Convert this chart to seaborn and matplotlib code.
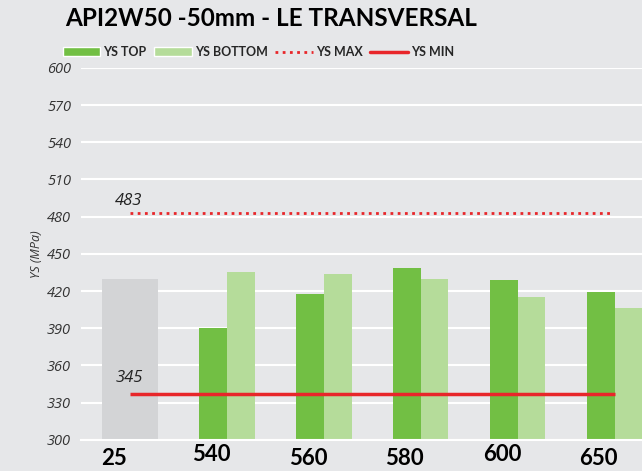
import pandas as pd
import matplotlib.pyplot as plt
import matplotlib.transforms as mtransforms
from matplotlib.patches import Patch
from matplotlib.lines import Line2D
import seaborn as sns

# data
categories = ['25', '540', '560', '580', '600', '650']
ref_category = ['25']
ref_value = [430]
pair_categories = ['540', '560', '580', '600', '650']
ys_top = [390, 418, 439, 429, 419]
ys_bottom = [435, 434, 430, 415, 406]
ys_max = 483
ys_min = 337
ys_min_label = '345'
ys_max_label = '483'

BG = '#e6e7e9'
GREY = '#d3d4d6'
DARK = '#72bf44'
LIGHT = '#b5dc9a'
RED = '#e8262a'

sns.set_theme(style='white')
plt.rcParams['font.family'] = ['Lato', 'DejaVu Sans']
ITAL = ['Open Sans', 'DejaVu Sans']

df_ref = pd.DataFrame({'cat': ref_category, 'value': ref_value})
df = pd.DataFrame({
    'cat': pair_categories * 2,
    'series': ['YS TOP'] * len(pair_categories) + ['YS BOTTOM'] * len(pair_categories),
    'value': ys_top + ys_bottom,
})

fig = plt.figure(figsize=(6.42, 4.71), dpi=100, facecolor=BG)
ax = fig.add_axes([0.126, 0.066, 0.874, 0.79])
ax.set_facecolor(BG)

sns.barplot(data=df_ref, x='cat', y='value', order=categories, color=GREY,
            width=0.57, saturation=1, errorbar=None, linewidth=0, ax=ax, zorder=2)
sns.barplot(data=df, x='cat', y='value', hue='series', order=categories,
            hue_order=['YS TOP', 'YS BOTTOM'], palette=[DARK, LIGHT],
            width=0.57, saturation=1, errorbar=None, linewidth=0, ax=ax,
            legend=False, zorder=2)

# reference lines
ax.hlines(ys_max, 0, 4.98, colors=RED, linestyles=(0, (1, 1.6)), linewidth=2, zorder=3)
ax.hlines(ys_min, 0, 5.0, colors=RED, linewidth=2.5, zorder=3)
ax.text(-0.15, ys_max + 6, ys_max_label, fontsize=12, style='italic', color='#222222',
        family=ITAL, zorder=4)
ax.text(-0.15, ys_min + 10, ys_min_label, fontsize=12, style='italic', color='#222222',
        family=ITAL, zorder=4)

ax.set_yticks(range(300, 601, 30))
ax.grid(axis='y', color='white', linewidth=1.5, zorder=0)
ax.set_axisbelow(True)
for s in ['top', 'right', 'left']:
    ax.spines[s].set_visible(False)
ax.spines['bottom'].set_color('white')
ax.spines['bottom'].set_linewidth(1.5)

ax.tick_params(axis='y', length=0, pad=7, labelsize=10.5, labelcolor='#333333')
for lbl in ax.get_yticklabels():
    lbl.set_style('italic')
    lbl.set_family(ITAL)

ax.set_xticks(range(len(categories)))
ax.set_xticklabels(categories, fontsize=16, fontweight='bold', color='black')
ax.set_xticks([i - 0.5 for i in range(len(categories) + 1)], minor=True)
ax.tick_params(axis='x', which='major', length=0, pad=3)
ax.tick_params(axis='x', which='minor', length=4, color='white', width=1.2)
y_shift = [-4, 0, -4, -4, 0, -4]
for lbl, dy in zip(ax.get_xticklabels(), y_shift):
    off = mtransforms.ScaledTranslation(-16 / 100, dy / 100, fig.dpi_scale_trans)
    lbl.set_transform(lbl.get_transform() + off)

ax.set_xlim(-0.505, 5.28)
ax.set_ylim(300, 600)

ax.set_xlabel('')
ax.set_ylabel('YS (MPa)', fontsize=9, style='italic', color='#333333', labelpad=3,
              family=ITAL)

fig.text(0.101, 1 - 7 / 471, 'API2W50 -50mm - LE TRANSVERSAL', fontsize=17.5,
         fontweight='bold', va='top', ha='left', color='black')

handles = [
    Patch(facecolor=DARK, label='YS TOP'),
    Patch(facecolor=LIGHT, label='YS BOTTOM'),
    Line2D([0], [0], color=RED, linestyle=(0, (1, 1.6)), linewidth=2, label='YS MAX'),
    Line2D([0], [0], color=RED, linewidth=2.5, label='YS MIN'),
]
leg = fig.legend(handles=handles, loc='center left', bbox_to_anchor=(0.098, 1 - 52 / 471),
                 ncol=4, frameon=False, handlelength=3.0, handleheight=0.75,
                 handletextpad=0.25, columnspacing=0.6, borderaxespad=0, borderpad=0,
                 prop={'weight': 'bold', 'size': 9})

fig.savefig('out.png', dpi=100, facecolor=BG)
